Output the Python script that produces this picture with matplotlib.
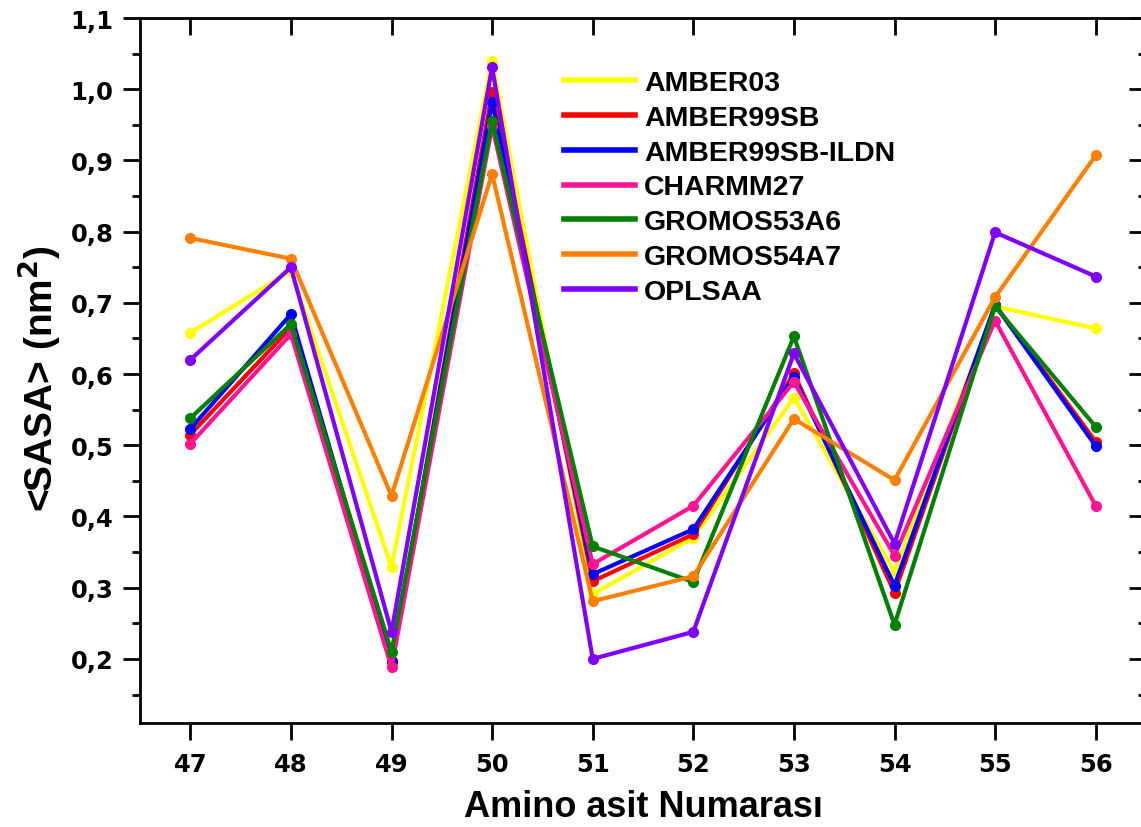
"""SASA per residue for seven force fields."""

import matplotlib
matplotlib.use("Agg")
import matplotlib.pyplot as plt
import matplotlib.ticker as ticker

residues = [47, 48, 49, 50, 51, 52, 53, 54, 55, 56]

amber03      = [0.658, 0.745, 0.329, 1.040, 0.291, 0.370, 0.567, 0.322, 0.695, 0.664]
amber99sb    = [0.515, 0.665, 0.195, 0.996, 0.309, 0.375, 0.601, 0.293, 0.697, 0.505]
amber99sb_il = [0.523, 0.684, 0.197, 0.982, 0.319, 0.382, 0.596, 0.303, 0.697, 0.499]
charmm27     = [0.502, 0.656, 0.188, 0.948, 0.333, 0.415, 0.589, 0.345, 0.675, 0.415]
gromos53a6   = [0.538, 0.670, 0.210, 0.955, 0.358, 0.308, 0.653, 0.248, 0.695, 0.526]
gromos54a7   = [0.791, 0.762, 0.429, 0.881, 0.281, 0.316, 0.537, 0.451, 0.708, 0.907]
oplsaa       = [0.620, 0.750, 0.238, 1.031, 0.200, 0.238, 0.629, 0.362, 0.799, 0.737]

labels = ["AMBER03", "AMBER99SB", "AMBER99SB-ILDN", "CHARMM27",
          "GROMOS53A6", "GROMOS54A7", "OPLSAA"]
series = [amber03, amber99sb, amber99sb_il, charmm27, gromos53a6, gromos54a7, oplsaa]
colors = ["#FFFF00", "#FF0000", "#0000FF", "#FF1493", "#008000", "#FF8000", "#8000FF"]

plt.rcParams["font.family"] = ["Liberation Sans", "DejaVu Sans"]
plt.rcParams["font.weight"] = "bold"

W, H = 1141, 828
fig = plt.figure(figsize=(W / 100, H / 100), dpi=100)
# axes box in pixels: left 140, right 1146 (just off the canvas), top 19, bottom 724
ax = fig.add_axes([140 / W, 1 - 724 / H, (1146 - 140) / W, (724 - 19) / H])

for ys, lab, col in zip(series, labels, colors):
    ax.plot(residues, ys, color=col, lw=3, marker="o", ms=7, label=lab)

ax.set_xlim(46.5, 56.5)
ax.set_ylim(0.11, 1.1)
ax.set_xticks(residues)
ax.yaxis.set_major_locator(ticker.MultipleLocator(0.1))
ax.yaxis.set_minor_locator(ticker.MultipleLocator(0.05))
ax.yaxis.set_major_formatter(ticker.FuncFormatter(lambda v, p: f"{v:.1f}".replace(".", ",")))

for s in ax.spines.values():
    s.set_linewidth(2)
ax.tick_params(axis="both", which="major", direction="out", length=12, width=2, pad=7)
ax.tick_params(axis="y", which="minor", direction="out", length=6, width=2)
ax.tick_params(axis="x", which="major", pad=9)
for t in ax.get_xticklabels() + ax.get_yticklabels():
    t.set_family("DejaVu Sans")
    t.set_fontsize(17.5)
    t.set_fontweight("bold")

# inward ticks on top and right
top = ax.secondary_xaxis("top")
top.set_xticks(residues)
top.tick_params(direction="in", length=12, width=2, labeltop=False)
right = ax.secondary_yaxis("right")
right.yaxis.set_major_locator(ticker.MultipleLocator(0.1))
right.yaxis.set_minor_locator(ticker.MultipleLocator(0.05))
right.tick_params(which="major", direction="in", length=12, width=2, labelright=False)
right.tick_params(which="minor", direction="in", length=6, width=2)

ax.set_xlabel("Amino asit Numarası", fontsize=26, fontweight="bold", labelpad=9)
ax.set_ylabel("<SASA> (nm$^\\mathbf{2}$)", fontsize=28, fontweight="bold")
ax.yaxis.set_label_coords(-0.077, 0.49)

leg = ax.legend(loc="upper left", bbox_to_anchor=(424 / 1006, (724 - 71) / 705),
                frameon=False, fontsize=20.5, handlelength=2.5, handletextpad=0.32,
                labelspacing=0.31, borderpad=0, borderaxespad=0)
for h in leg.get_lines():
    h.set_marker("")
    h.set_linewidth(4)
for t in leg.get_texts():
    t.set_fontweight("bold")

fig.savefig("out.png", dpi=100)
